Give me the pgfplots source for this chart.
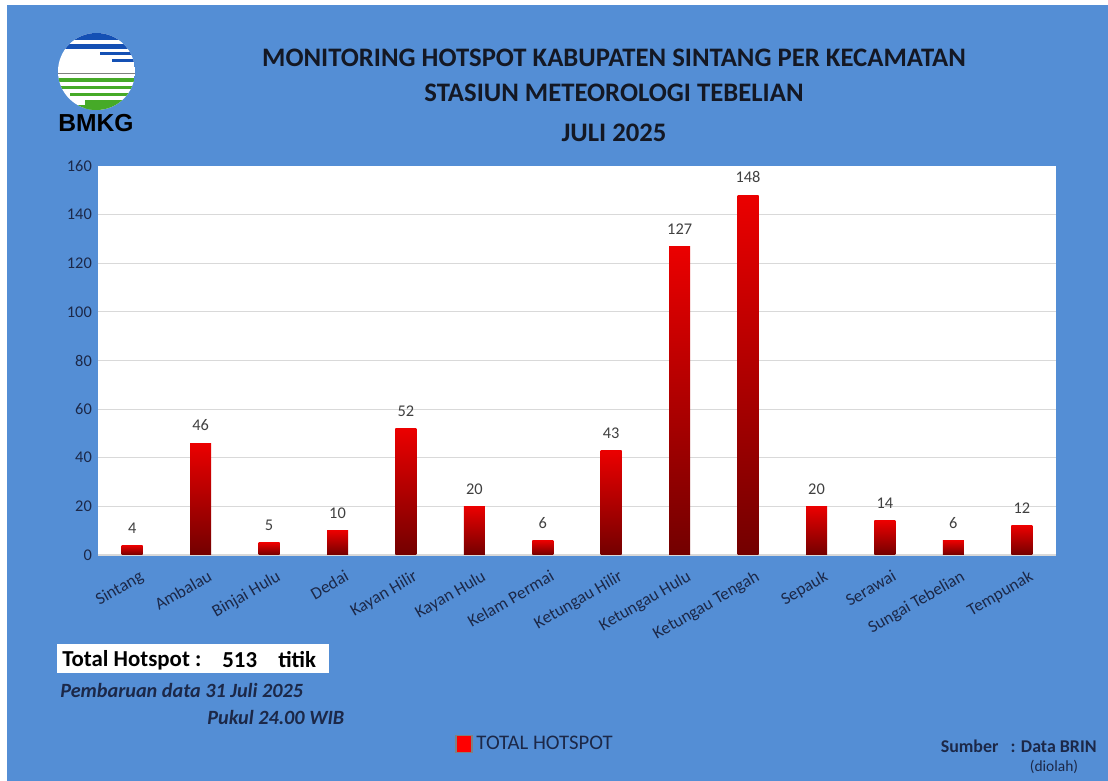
\documentclass[border=0pt]{standalone}
\usepackage{pgfplots}
\pgfplotsset{compat=1.18}
\usepackage{fontspec}
\setmainfont{Carlito}
\newfontfamily\arial{Liberation Sans}
\definecolor{bgblue}{RGB}{84,142,213}
\definecolor{navy}{RGB}{28,40,72}
\definecolor{titlec}{RGB}{20,24,36}
\definecolor{gridc}{RGB}{217,217,217}
\definecolor{lblgrey}{RGB}{64,64,64}
\definecolor{bartop}{RGB}{235,0,0}
\definecolor{barbot}{RGB}{115,0,0}
\definecolor{logoblue}{RGB}{20,80,180}
\definecolor{logogreen}{RGB}{70,170,40}

\pgfplotstableread{
idx value
0 4
1 46
2 5
3 10
4 52
5 20
6 6
7 43
8 127
9 148
10 20
11 14
12 6
13 12
}\hotspot

\begin{document}
\begin{tikzpicture}[x=0.2mm,y=0.2mm]
% background
\fill[white] (0,0) rectangle (1108,781);
\fill[bgblue] (7,0) rectangle (1108,776);

% logo
\begin{scope}
\clip (96.5,709.5) circle (38.5);
\fill[white] (58,671) rectangle (135,748);
\fill[logoblue] (58,741) rectangle (135,748);
\fill[logoblue] (58,732) rectangle (135,737);
\fill[logoblue] (100,726) rectangle (135,729);
\fill[logoblue] (112,719) rectangle (135,722);
\draw[gray,line width=0.5] (58,708) -- (135,708);
\fill[logogreen] (58,699) rectangle (135,703);
\fill[logogreen] (58,692) rectangle (135,695);
\fill[logogreen] (70,685) rectangle (135,688);
\fill[logogreen] (85,671) rectangle (135,681);
\fill[logogreen] (58,671) rectangle (95,676);
\end{scope}
\node[font=\arial\bfseries\fontsize{14}{16}\selectfont, text=black] at (96,658) {BMKG};

% titles
\node[font=\bfseries\fontsize{15.2}{17}\selectfont, text=titlec] at (614,723) {MONITORING HOTSPOT KABUPATEN SINTANG PER KECAMATAN};
\node[font=\bfseries\fontsize{15.2}{17}\selectfont, text=titlec] at (614,688) {STASIUN METEOROLOGI TEBELIAN};
\node[font=\bfseries\fontsize{15.2}{17}\selectfont, text=titlec] at (614,648) {JULI 2025};

\begin{axis}[
    at={(19.6mm,45.2mm)}, anchor=south west,
    width=191.6mm, height=77.8mm, scale only axis,
    xmin=-0.5, xmax=13.5, ymin=0, ymax=160,
    ytick={0,20,...,140},
    extra y ticks={160}, extra y tick style={grid=none},
    xtick={0,...,13},
    xticklabels={Sintang, Ambalau, Binjai Hulu, Dedai, Kayan Hilir, Kayan Hulu, Kelam Permai, Ketungau Hilir, Ketungau Hulu, Ketungau Tengah, Sepauk, Serawai, Sungai Tebelian, Tempunak},
    x tick label style={rotate=30, anchor=north east, font=\fontsize{9.8}{11}\selectfont, text=navy, xshift=0.9mm, yshift=-1.9mm},
    y tick label style={font=\fontsize{9.3}{10}\selectfont, text=navy},
    /pgf/number format/assume math mode=true,
    major tick length=0pt,
    axis line style={draw=none},
    axis background/.style={fill=white},
    ymajorgrids, grid style={gridc, line width=0.6pt},
    ybar, bar width=4.2mm,
    nodes near coords,
    nodes near coords style={font=\fontsize{9.3}{10}\selectfont, text=lblgrey, yshift=1.2mm},
    legend style={at={(0.367,-0.486)}, anchor=west, draw=none, fill=none,
        font=\fontsize{11.8}{13}\selectfont, text=navy},
]
\pgfplotsinvokeforeach{0,...,13}{
  \addplot[draw=none, top color=bartop, bottom color=barbot, bar shift=0pt, forget plot,
    restrict x to domain=#1:#1] table[x=idx, y=value] {\hotspot};
}
\addlegendimage{legend image code/.code={\draw[fill=red, draw=gray, line width=1pt] (-0.5mm,-1.7mm) rectangle (2.7mm,1.7mm);}}
\addlegendentry{TOTAL HOTSPOT}
\end{axis}

% info box
\fill[white] (57,108) rectangle (329,137);
\node[anchor=west, inner sep=0pt, font=\bfseries\fontsize{13}{15}\selectfont, text=black] at (62,121) {Total Hotspot :};
\node[anchor=west, inner sep=0pt, font=\bfseries\fontsize{13}{15}\selectfont, text=black] at (222,121) {513};
\node[anchor=west, inner sep=0pt, font=\bfseries\fontsize{13}{15}\selectfont, text=black] at (278,121) {titik};
\node[anchor=west, inner sep=0pt, font=\bfseries\itshape\fontsize{11.5}{13}\selectfont, text=navy] at (60,91) {Pembaruan data 31 Juli 2025};
\node[anchor=west, inner sep=0pt, font=\bfseries\itshape\fontsize{11.5}{13}\selectfont, text=navy] at (207,64) {Pukul 24.00 WIB};

% source
\node[anchor=east, inner sep=0pt, font=\bfseries\fontsize{10.2}{12}\selectfont, text=navy] at (1097,35) {Sumber\ \ \ : Data BRIN};
\node[font=\fontsize{8.8}{10}\selectfont, text=navy] at (1054,14) {(diolah)};
\end{tikzpicture}
\end{document}
